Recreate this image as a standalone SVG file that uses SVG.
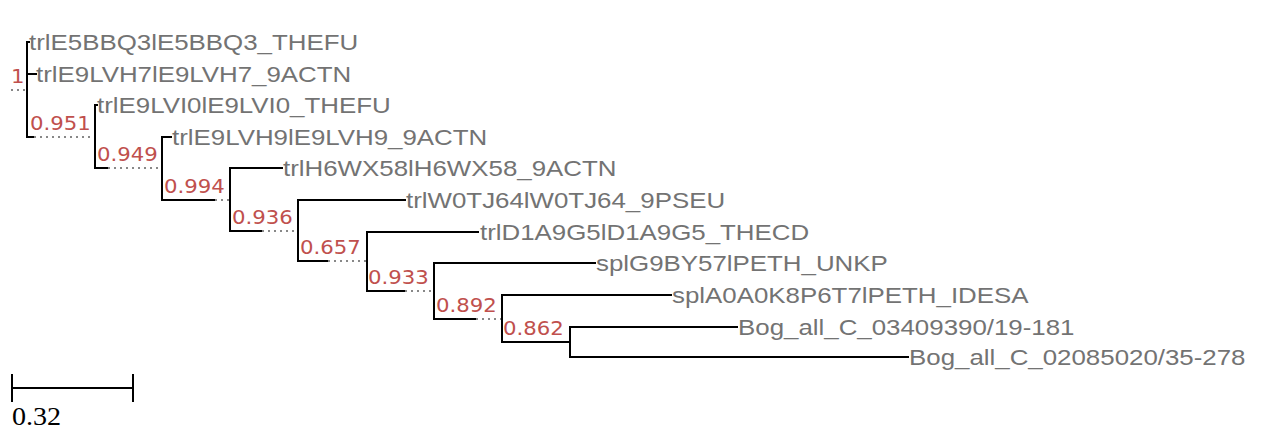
<svg xmlns="http://www.w3.org/2000/svg" width="1270" height="448" viewBox="0 0 1270 448">
<style>
.br{stroke:#000;stroke-width:2;fill:none;stroke-linecap:square}
.dot{stroke:#888;stroke-width:2;fill:none;stroke-dasharray:2 4}
.leaf{font-family:"Liberation Sans",Arial,sans-serif;font-size:22.5px;fill:#737373}
.sup{font-family:"DejaVu Sans",Verdana,sans-serif;font-size:19.5px;fill:#c0504d}
.scl{font-family:"Liberation Serif","Times New Roman",serif;font-size:26px;fill:#000}
</style>
<rect width="1270" height="448" fill="#fff"/>
<g id="connectors">
<path class="dot" d="M11,90H27"/>
<path class="br" d="M27,42V137M27,42H29M27,74H36"/>
<path class="br" d="M27,137H34"/><path class="dot" d="M34,137H95"/>
<path class="br" d="M95,105V168M95,105H97"/>
<path class="br" d="M95,168H108"/><path class="dot" d="M108,168H162"/>
<path class="br" d="M162,137V200M162,137H171"/>
<path class="br" d="M162,200H215"/><path class="dot" d="M215,200H230"/>
<path class="br" d="M230,168V231M230,168H282"/>
<path class="br" d="M230,231H262"/><path class="dot" d="M262,231H298"/>
<path class="br" d="M298,200V261M298,200H405"/>
<path class="br" d="M298,261H328"/><path class="dot" d="M328,261H367"/>
<path class="br" d="M367,232V291M367,232H478"/>
<path class="br" d="M367,291H405"/><path class="dot" d="M405,291H434"/>
<path class="br" d="M434,263V319M434,263H595"/>
<path class="br" d="M434,319H476"/><path class="dot" d="M476,319H502"/>
<path class="br" d="M502,295V342M502,295H671"/>
<path class="br" d="M502,342H570"/>
<path class="br" d="M570,327V357M570,327H737M570,357H908"/>
</g>
<g id="n-root"><text class="sup" transform="translate(11,83) scale(1.09,1)">1</text></g>
<g id="n1"><text class="leaf" transform="translate(29,49.5) scale(1.15,1)">trlE5BBQ3lE5BBQ3_THEFU</text></g>
<g id="n2"><text class="leaf" transform="translate(36,81.5) scale(1.15,1)">trlE9LVH7lE9LVH7_9ACTN</text></g>
<g id="nA"><text class="sup" transform="translate(30,130) scale(1.09,1)">0.951</text></g>
<g id="n3"><text class="leaf" transform="translate(97,112.5) scale(1.15,1)">trlE9LVI0lE9LVI0_THEFU</text></g>
<g id="nB"><text class="sup" transform="translate(97,161) scale(1.09,1)">0.949</text></g>
<g id="n4"><text class="leaf" transform="translate(172,144.5) scale(1.15,1)">trlE9LVH9lE9LVH9_9ACTN</text></g>
<g id="nC"><text class="sup" transform="translate(164,193) scale(1.09,1)">0.994</text></g>
<g id="n5"><text class="leaf" transform="translate(283,175.5) scale(1.15,1)">trlH6WX58lH6WX58_9ACTN</text></g>
<g id="nD"><text class="sup" transform="translate(232,224) scale(1.09,1)">0.936</text></g>
<g id="n6"><text class="leaf" transform="translate(406,207.5) scale(1.15,1)">trlW0TJ64lW0TJ64_9PSEU</text></g>
<g id="nE"><text class="sup" transform="translate(300,254) scale(1.09,1)">0.657</text></g>
<g id="n7"><text class="leaf" transform="translate(480,239.5) scale(1.15,1)">trlD1A9G5lD1A9G5_THECD</text></g>
<g id="nF"><text class="sup" transform="translate(368,284) scale(1.09,1)">0.933</text></g>
<g id="n8"><text class="leaf" transform="translate(596,270.5) scale(1.15,1)">splG9BY57lPETH_UNKP</text></g>
<g id="nG"><text class="sup" transform="translate(436,312) scale(1.09,1)">0.892</text></g>
<g id="n9"><text class="leaf" transform="translate(672,302.5) scale(1.15,1)">splA0A0K8P6T7lPETH_IDESA</text></g>
<g id="nH"><text class="sup" transform="translate(503,335) scale(1.09,1)">0.862</text></g>
<g id="n10"><text class="leaf" transform="translate(738,334.5) scale(1.15,1)">Bog_all_C_03409390/19-181</text></g>
<g id="n11"><text class="leaf" transform="translate(909,364.5) scale(1.15,1)">Bog_all_C_02085020/35-278</text></g>
<g id="scale">
<path class="br" d="M12,388H133M12,375V401M133,375V401"/>
<text class="scl" transform="translate(12,425) scale(1.08,1)">0.32</text>
</g>
</svg>
